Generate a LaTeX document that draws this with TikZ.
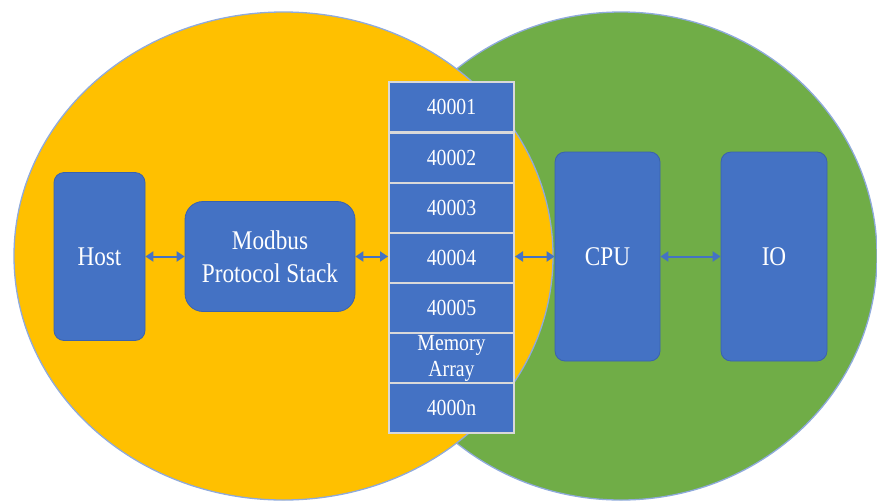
\documentclass[tikz,border=0pt]{standalone}
\usepackage{fontspec}
\setmainfont{Liberation Serif}[FakeStretch=0.86]
\usetikzlibrary{arrows.meta,shapes.geometric}
\definecolor{yel}{HTML}{FFC000}
\definecolor{grn}{HTML}{70AD47}
\definecolor{blu}{HTML}{4472C4}
\definecolor{ringc}{HTML}{8FAADC}
\definecolor{boxedge}{HTML}{3A62AE}
\definecolor{celledge}{HTML}{D9D9D9}
\tikzset{
  ring/.style={ellipse, draw=ringc, line width=1.3pt, inner sep=0pt},
  blk/.style={rectangle, fill=blu, draw=boxedge, line width=0.8pt, text=white,
    inner sep=0pt, align=center, font=\fontsize{27}{33}\selectfont},
  cell/.style={rectangle, fill=blu, draw=celledge, line width=2pt, text=white,
    inner sep=0pt, minimum width=125pt, minimum height=50pt, align=center,
    font=\fontsize{23}{26}\selectfont},
  arr/.style={draw=blu, line width=2pt, {Triangle[length=8pt,width=10pt]}-{Triangle[length=8pt,width=10pt]}}
}
\begin{document}
\begin{tikzpicture}[x=1pt,y=-1pt]
\useasboundingbox (0,0) rectangle (877,501);
\clip (0,0) rectangle (877,501);
\node[ring, fill=grn, minimum width=512pt, minimum height=488pt] (gring) at (621,256) {};
\node[ring, fill=yel, minimum width=539pt, minimum height=488pt] (yring) at (283.5,256) {};
\node[blk, rounded corners=10pt, minimum width=91pt, minimum height=168pt] (host) at (99.5,256.5) {Host};
\node[blk, rounded corners=18pt, minimum width=170pt, minimum height=110pt] (stack) at (270,256.5) {Modbus\\Protocol Stack};
\node[blk, rounded corners=10pt, minimum width=105pt, minimum height=209pt] (cpu) at (607.5,256.5) {CPU};
\node[blk, rounded corners=10pt, minimum width=106pt, minimum height=209pt] (io) at (774,256.5) {IO};
\node[cell] (m1) at (451.5,107) {40001};
\node[cell] (m2) at (451.5,157.5) {40002};
\node[cell] (m3) at (451.5,208) {40003};
\node[cell] (m4) at (451.5,258) {40004};
\node[cell] (m5) at (451.5,308) {40005};
\node[cell] (m6) at (451.5,358) {\raisebox{-6pt}{\parbox{120pt}{\centering\baselineskip=26pt Memory\\Array}}};
\node[cell] (m7) at (451.5,408) {4000n};
\draw[arr] (host.east) -- (host.east -| stack.west);
\draw[arr] (stack.east) -- (stack.east -| m4.west);
\draw[arr] (m4.east |- cpu.west) -- (cpu.west);
\draw[arr] (cpu.east) -- (io.west);
\end{tikzpicture}
\end{document}
